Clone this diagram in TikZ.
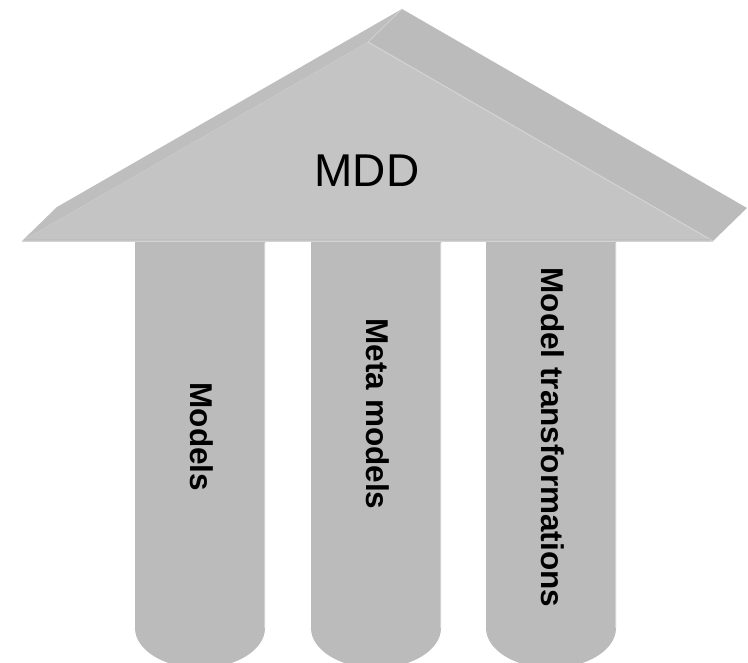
\documentclass[tikz,border=0pt]{standalone}
\usepackage{fontspec}
\setmainfont{Liberation Sans}
\definecolor{roofface}{HTML}{C4C4C4}
\definecolor{roofside}{HTML}{BBBBBB}
\definecolor{roofstrip}{HTML}{BEBEBE}
\definecolor{pillar}{HTML}{BBBBBB}
\definecolor{edgelight}{HTML}{D3D3D3}
\tikzset{
  pillarshape/.style={fill=pillar, draw=none},
  pillaredge/.style={draw=edgelight, line width=0.9pt},
  roofedge/.style={draw=edgelight, line width=1.1pt},
  rooflabel/.style={inner sep=0pt, font=\fontsize{46}{50}\selectfont},
  pillarlabel/.style={inner sep=0pt, rotate=-90, font=\bfseries\fontsize{31.5}{36}\selectfont}
}
\begin{document}
\begin{tikzpicture}[x=1pt, y=-1pt]
  \clip (0,0) rectangle (748,663);
  \useasboundingbox (0,0) rectangle (748,663);
  \fill[white] (0,0) rectangle (748,663);

  % three pillars with rounded feet
  \foreach \xl in {135, 311, 486} {
    \pgfmathsetmacro{\xr}{\xl+130}
    \pgfmathsetmacro{\xm}{\xl+65}
    \pgfmathsetmacro{\ca}{\xl+29}
    \pgfmathsetmacro{\cb}{\xr-29}
    \fill[pillarshape] (\xl,241) -- (\xl,628)
      .. controls (\xl,650) and (\ca,668) .. (\xm,668)
      .. controls (\cb,668) and (\xr,650) .. (\xr,628)
      -- (\xr,241) -- cycle;
    \draw[pillaredge] (\xr-0.5,243) -- (\xr-0.5,628);
  }

  % roof: back slab, left strip, front gable
  \fill[roofside] (368,42) -- (402,9) -- (747,208) -- (713,241) -- cycle;
  \fill[roofstrip] (22,241) -- (57,207) -- (402,9) -- (368,42) -- cycle;
  \fill[roofface] (22,241) -- (368,42) -- (713,241) -- cycle;
  \draw[roofedge] (368,42) -- (713,241);
  \draw[roofedge, line width=0.7pt] (368,42) -- (402,9);
  \draw[draw=roofstrip, line width=1.5pt] (24,239.5) -- (711,239.5);
  \draw[roofedge] (22,241.5) -- (713,241.5);

  % labels
  \node[rooflabel] (mdd) at (367,170.5) {MDD};
  \node[pillarlabel] (models) at (201.5,437) {Models};
  \node[pillarlabel] (meta) at (377.5,414) {Meta models};
  \node[pillarlabel] (trans) at (552.5,437.5) {Model transformations};
\end{tikzpicture}
\end{document}
